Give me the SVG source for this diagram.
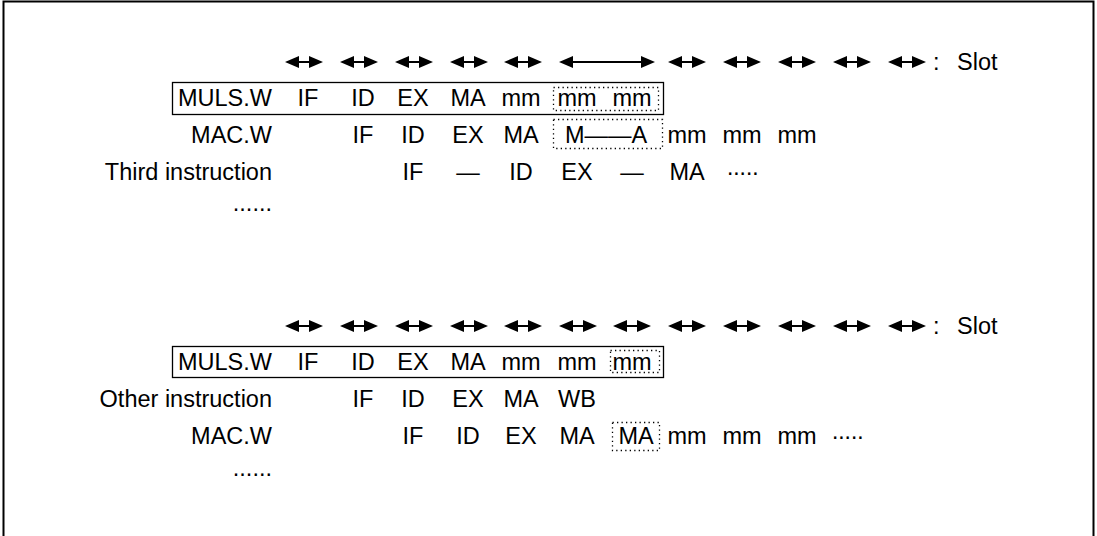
<svg xmlns="http://www.w3.org/2000/svg" xmlns:xlink="http://www.w3.org/1999/xlink" width="1097" height="536" viewBox="0 0 1097 536">
<style>
text{font-family:"Liberation Sans",Arial,sans-serif;font-size:23.5px;fill:#000}
.m{text-anchor:middle}
.r{text-anchor:end}
.box{fill:none;stroke:#000;stroke-width:1.3}
.dot{fill:none;stroke:#000;stroke-width:1.3;stroke-dasharray:1.3 3.2}
.shaft{stroke:#000;stroke-width:2}
</style>
<defs>
<g id="arr">
<line class="shaft" x1="-7" y1="0" x2="7" y2="0"/>
<polygon points="-19,0 -5,-6 -5,6"/>
<polygon points="19,0 5,-6 5,6"/>
</g>
</defs>
<rect width="1097" height="536" fill="#fff"/>
<path d="M3.5,540 V1.5 H1093.5 V540" fill="none" stroke="#000" stroke-width="2"/>

<g id="top-slots">
<use xlink:href="#arr" x="304" y="62"/>
<use xlink:href="#arr" x="359" y="62"/>
<use xlink:href="#arr" x="414" y="62"/>
<use xlink:href="#arr" x="469" y="62"/>
<use xlink:href="#arr" x="523" y="62"/>
<line class="shaft" x1="570" y1="62" x2="645" y2="62"/>
<polygon points="559,62 573,56 573,68"/>
<polygon points="655,62 641,56 641,68"/>
<use xlink:href="#arr" x="687" y="62"/>
<use xlink:href="#arr" x="742" y="62"/>
<use xlink:href="#arr" x="797" y="62"/>
<use xlink:href="#arr" x="852" y="62"/>
<use xlink:href="#arr" x="907" y="62"/>
<text x="933" y="70">:</text>
<text x="957" y="70">Slot</text>
</g>

<g id="top-muls">
<rect class="box" x="172.5" y="82.5" width="491" height="32"/>
<rect class="dot" x="553.5" y="87.5" width="105" height="23"/>
<text class="r" x="272" y="106">MULS.W</text>
<text class="m" x="308" y="106">IF</text>
<text class="m" x="363" y="106">ID</text>
<text class="m" x="413" y="106">EX</text>
<text class="m" x="468" y="106">MA</text>
<text class="m" x="521" y="106">mm</text>
<text class="m" x="577" y="106">mm</text>
<text class="m" x="632" y="106">mm</text>
</g>

<g id="top-mac">
<rect class="dot" x="553.5" y="119.5" width="109" height="29"/>
<text class="r" x="272" y="143">MAC.W</text>
<text class="m" x="363" y="143">IF</text>
<text class="m" x="413" y="143">ID</text>
<text class="m" x="468" y="143">EX</text>
<text class="m" x="521" y="143">MA</text>
<text class="m" x="606" y="143">M——A</text>
<text class="m" x="687" y="143">mm</text>
<text class="m" x="742" y="143">mm</text>
<text class="m" x="797" y="143">mm</text>
</g>

<g id="top-third">
<text class="r" x="272" y="180">Third instruction</text>
<text class="m" x="413" y="180">IF</text>
<text class="m" x="468" y="180">—</text>
<text class="m" x="521" y="180">ID</text>
<text class="m" x="577" y="180">EX</text>
<text class="m" x="632" y="180">—</text>
<text class="m" x="687" y="180">MA</text>
<text class="m" x="742" y="180" letter-spacing="-1.5">·····</text>
</g>

<g id="top-more">
<text class="r" x="272" y="211">......</text>
</g>

<g id="bottom-slots">
<use xlink:href="#arr" x="304" y="326"/>
<use xlink:href="#arr" x="359" y="326"/>
<use xlink:href="#arr" x="414" y="326"/>
<use xlink:href="#arr" x="469" y="326"/>
<use xlink:href="#arr" x="523" y="326"/>
<use xlink:href="#arr" x="578" y="326"/>
<use xlink:href="#arr" x="632" y="326"/>
<use xlink:href="#arr" x="687" y="326"/>
<use xlink:href="#arr" x="742" y="326"/>
<use xlink:href="#arr" x="797" y="326"/>
<use xlink:href="#arr" x="852" y="326"/>
<use xlink:href="#arr" x="907" y="326"/>
<text x="933" y="334">:</text>
<text x="957" y="334">Slot</text>
</g>

<g id="bottom-muls">
<rect class="box" x="172.5" y="346.5" width="491" height="31"/>
<rect class="dot" x="610.5" y="350.5" width="49" height="22"/>
<text class="r" x="272" y="370">MULS.W</text>
<text class="m" x="308" y="370">IF</text>
<text class="m" x="363" y="370">ID</text>
<text class="m" x="413" y="370">EX</text>
<text class="m" x="468" y="370">MA</text>
<text class="m" x="521" y="370">mm</text>
<text class="m" x="577" y="370">mm</text>
<text class="m" x="632" y="370">mm</text>
</g>

<g id="bottom-other">
<text class="r" x="272" y="407">Other instruction</text>
<text class="m" x="363" y="407">IF</text>
<text class="m" x="413" y="407">ID</text>
<text class="m" x="468" y="407">EX</text>
<text class="m" x="521" y="407">MA</text>
<text class="m" x="577" y="407">WB</text>
</g>

<g id="bottom-mac">
<rect class="dot" x="612.5" y="422.5" width="47" height="28"/>
<text class="r" x="272" y="444">MAC.W</text>
<text class="m" x="413" y="444">IF</text>
<text class="m" x="468" y="444">ID</text>
<text class="m" x="521" y="444">EX</text>
<text class="m" x="577" y="444">MA</text>
<text class="m" x="636" y="444">MA</text>
<text class="m" x="687" y="444">mm</text>
<text class="m" x="742" y="444">mm</text>
<text class="m" x="797" y="444">mm</text>
<text class="m" x="847" y="444" letter-spacing="-1.5">·····</text>
</g>

<g id="bottom-more">
<text class="r" x="272" y="476">......</text>
</g>
</svg>
